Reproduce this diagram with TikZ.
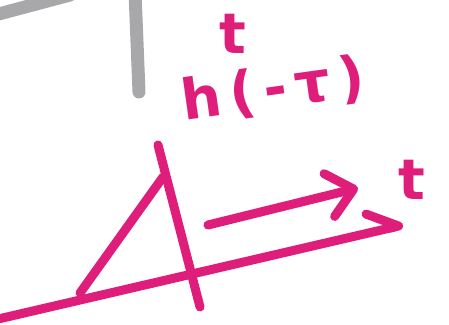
\documentclass[tikz,border=0pt]{standalone}
\usepackage{fontspec}
\setmainfont{DejaVu Sans}
\usetikzlibrary{arrows.meta,positioning}
\definecolor{markpink}{RGB}{222,30,122}
\definecolor{pencilgray}{RGB}{168,168,170}

\begin{document}
\begin{tikzpicture}[x=1pt,y=-1pt,
 ink/.style={draw=markpink,line width=9pt,line cap=round,line join=round},
 grayink/.style={draw=pencilgray,line width=13pt,line cap=round},
 lbl/.style={text=markpink,font=\fontsize{56}{56}\selectfont\bfseries,inner sep=0pt},
 arr/.style={-{Straight Barb[round,length=25pt,width=44pt]}},
 harp/.style={-{Straight Barb[round,left,length=29pt,width=38pt]}}]
\clip (0,0) rectangle (449,324);
% gray marks left over from the sketch above
\coordinate (g1) at (-5,15);
\coordinate (g2) at (70,-5);
\coordinate (g3) at (135,-8);
\coordinate (g4) at (139,92);
\draw[grayink] (g1)--(g2);
\draw[grayink] (g3)--(g4);
% labels
\node[lbl,rotate=8] (hlab) at (273,90) {h\hspace{9pt}(\hspace{9pt}-\hspace{8pt}τ\hspace{8pt})};
\node[lbl] (tup) at (233,34) {t};
\node[lbl] (tax) at (412,180) {t};
% axis and the flipped pulse
\coordinate (ax0) at (-6,320);
\coordinate (ax1) at (403,225);
\coordinate (p0) at (80,293);
\coordinate (p1) at (163,177);
\coordinate (q0) at (158,145);
\coordinate (q1) at (200,307);
\coordinate (m0) at (208,225);
\coordinate (m1) at (358,188);
\draw[ink,harp] (ax0)--(ax1);
\draw[ink] (p0)--(p1);
\draw[ink] (q0)--(q1);
\draw[ink,arr] (m0)--(m1);
\end{tikzpicture}
\end{document}
